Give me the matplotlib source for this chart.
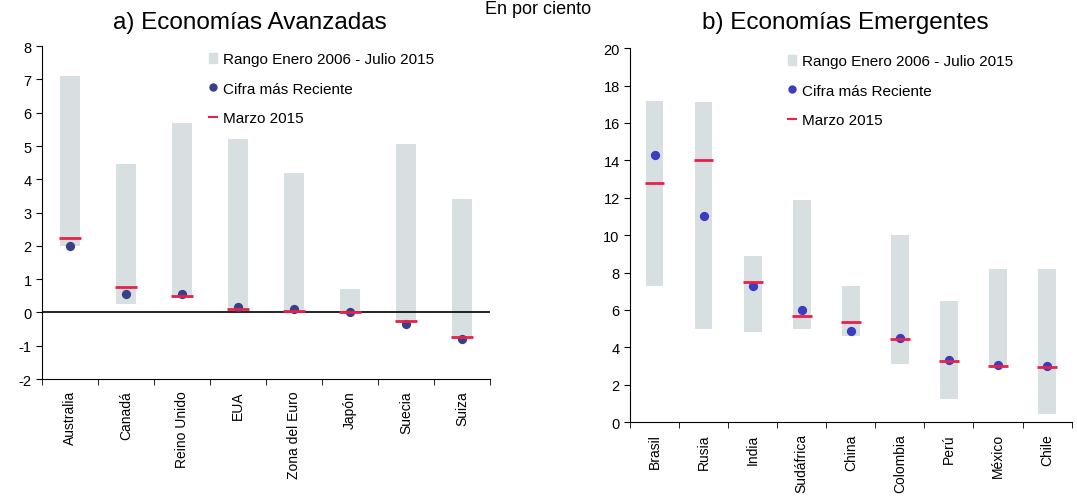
import matplotlib
matplotlib.use("Agg")
import matplotlib.pyplot as plt
from matplotlib.lines import Line2D
from matplotlib.patches import Patch
import numpy as np

plt.rcParams['font.family'] = ['Liberation Sans', 'DejaVu Sans']
plt.rcParams['axes.unicode_minus'] = False

# a) Economias avanzadas
adv_names = ['Australia', 'Canadá', 'Reino Unido', 'EUA', 'Zona del Euro', 'Japón', 'Suecia', 'Suiza']
adv_low = [2.0, 0.25, 0.5, 0.1, 0.05, 0.0, -0.25, -0.75]
adv_high = [7.1, 4.45, 5.7, 5.2, 4.2, 0.7, 5.05, 3.4]
adv_recent = [2.0, 0.55, 0.55, 0.15, 0.1, 0.02, -0.35, -0.8]
adv_march = [2.25, 0.75, 0.5, 0.1, 0.05, 0.0, -0.25, -0.75]

# b) Economias emergentes
em_names = ['Brasil', 'Rusia', 'India', 'Sudáfrica', 'China', 'Colombia', 'Perú', 'México', 'Chile']
em_low = [7.3, 5.0, 4.8, 5.0, 4.6, 3.1, 1.25, 3.0, 0.45]
em_high = [17.2, 17.1, 8.9, 11.9, 7.3, 10.0, 6.5, 8.2, 8.2]
em_recent = [14.3, 11.0, 7.3, 6.0, 4.85, 4.5, 3.3, 3.05, 3.0]
em_march = [12.8, 14.0, 7.5, 5.7, 5.35, 4.45, 3.25, 3.0, 2.95]

bar_col = '#d8dfe1'
red = '#e8204a'

fig = plt.figure(figsize=(10.77, 5.02), dpi=100)
fig.text(0.5, 0.998, 'En por ciento', ha='center', va='top', fontsize=13)


def panel(ax, names, low, high, recent, march, dot_col, ylim, step, leg_anchor):
    n = len(names)
    x = np.arange(n) + 0.5
    ax.bar(x, np.array(high) - np.array(low), bottom=low, width=0.36, color=bar_col, zorder=1)
    ax.scatter(x, recent, s=32, color=dot_col, zorder=3)
    ax.hlines(march, x - 0.2, x + 0.2, color=red, lw=2, zorder=4)
    ax.set_xlim(0, n)
    ax.set_ylim(*ylim)
    ax.set_yticks(np.arange(ylim[0], ylim[1] + 0.1, step))
    ax.set_xticks(x)
    ax.set_xticklabels(names, rotation=90, fontsize=10)
    ax.set_xticks(np.arange(n + 1), minor=True)
    ax.tick_params(axis='x', which='major', length=0, pad=8)
    ax.tick_params(axis='x', which='minor', length=4, direction='out')
    ax.tick_params(axis='y', labelsize=10.5, length=4)
    for s in ['top', 'right']:
        ax.spines[s].set_visible(False)
    handles = [Patch(color=bar_col),
               Line2D([], [], marker='o', ls='', color=dot_col, markersize=5),
               Line2D([], [], color=red, lw=1.5)]
    labels = ['Rango Enero 2006 - Julio 2015', 'Cifra más Reciente', 'Marzo 2015']
    ax.legend(handles, labels, loc='upper left', frameon=False, fontsize=11,
              handlelength=0.5, handletextpad=0.4, labelspacing=1.0,
              borderaxespad=0, bbox_to_anchor=leg_anchor)


ax1 = fig.add_axes([0.039, 0.243, 0.416, 0.663])
panel(ax1, adv_names, adv_low, adv_high, adv_recent, adv_march, '#3b3f86', (-2, 8), 1,
      (0.36, 1.0))
ax1.axhline(0, color='black', lw=1.2, zorder=2)
fig.text(0.232, 0.955, 'a) Economías Avanzadas', ha='center', va='center', fontsize=17.5)

ax2 = fig.add_axes([0.585, 0.157, 0.410, 0.745])
panel(ax2, em_names, em_low, em_high, em_recent, em_march, '#3b3cc0', (0, 20), 2,
      (0.345, 1.0))
fig.text(0.785, 0.955, 'b) Economías Emergentes', ha='center', va='center', fontsize=17.5)

fig.savefig('out.png', dpi=100)
